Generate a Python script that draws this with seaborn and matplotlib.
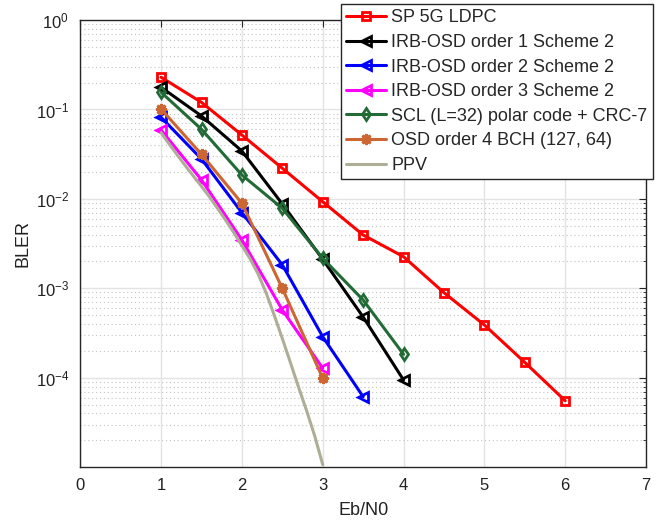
import numpy as np
import pandas as pd
import seaborn as sns
import matplotlib
matplotlib.use("Agg")
import matplotlib.pyplot as plt
from matplotlib.ticker import LogLocator, NullFormatter, FixedLocator, FixedFormatter

# Eb/N0 grids (dB)
ebn0_ldpc = [1.0, 1.5, 2.0, 2.5, 3.0, 3.5, 4.0, 4.5, 5.0, 5.5, 6.0]
ebn0_irb1 = [1.0, 1.5, 2.0, 2.5, 3.0, 3.5, 4.0]
ebn0_irb2 = [1.0, 1.5, 2.0, 2.5, 3.0, 3.5]
ebn0_irb3 = [1.0, 1.5, 2.0, 2.5, 3.0]
ebn0_scl = [1.0, 1.5, 2.0, 2.5, 3.0, 3.5, 4.0]
ebn0_bch = [1.0, 1.5, 2.0, 2.5, 3.0]
ebn0_ppv = [1.0, 1.1, 1.2, 1.3, 1.4, 1.5, 1.6, 1.7, 1.8, 1.9, 2.0,
            2.1, 2.2, 2.3, 2.4, 2.5, 2.6, 2.7, 2.8, 2.9, 3.0]

# Block error rates
bler_ldpc = [0.229, 0.120, 0.0518, 0.0220, 0.0093, 0.00395, 0.00226,
             8.95e-4, 3.9e-4, 1.49e-4, 5.55e-5]
bler_irb1 = [0.177, 0.0845, 0.0343, 0.00877, 0.00211, 4.79e-4, 9.46e-5]
bler_irb2 = [0.0817, 0.0279, 0.00701, 0.00183, 2.88e-4, 6.15e-5]
bler_irb3 = [0.0589, 0.0163, 0.00347, 5.73e-4, 1.28e-4]
bler_scl = [0.1555, 0.060, 0.0185, 0.00785, 0.00217, 7.41e-4, 1.83e-4]
bler_bch = [0.101, 0.0315, 0.00893, 0.0010, 9.9e-5]
bler_ppv = [5.5e-2, 4.1e-2, 3.1e-2, 2.35e-2, 1.8e-2, 1.38e-2, 1.05e-2, 7.8e-3,
            5.75e-3, 4.2e-3, 3.0e-3, 2.15e-3, 1.45e-3, 8.9e-4, 5.0e-4,
            2.75e-4, 1.48e-4, 7.9e-5, 4.3e-5, 2.25e-5, 1.07e-5]

series_labels = ["SP 5G LDPC", "IRB-OSD order 1 Scheme 2", "IRB-OSD order 2 Scheme 2",
                 "IRB-OSD order 3 Scheme 2", "SCL (L=32) polar code + CRC-7",
                 "OSD order 4 BCH (127, 64)", "PPV"]
x_ticks = [0, 1, 2, 3, 4, 5, 6, 7]
y_ticks = [1e-4, 1e-3, 1e-2, 1e-1, 1e0]
y_tick_labels = [r"$10^{-4}$", r"$10^{-3}$", r"$10^{-2}$", r"$10^{-1}$", r"$10^{0}$"]

sns.set_theme(style="white")
plt.rcParams["font.family"] = ["Liberation Sans", "DejaVu Sans"]
plt.rcParams["mathtext.fontset"] = "custom"
plt.rcParams["mathtext.rm"] = "Liberation Sans"
plt.rcParams["mathtext.it"] = "Liberation Sans"
plt.rcParams["mathtext.default"] = "regular"

fig = plt.figure(figsize=(6.67, 5.25), dpi=100)
ax = fig.add_axes([0.1204, 0.1099, 0.8481, 0.8520])

styles = [
    dict(x=ebn0_ldpc, y=bler_ldpc, color="#FF0000", marker="s", ms=5.5),
    dict(x=ebn0_irb1, y=bler_irb1, color="#000000", marker="<", ms=6.5),
    dict(x=ebn0_irb2, y=bler_irb2, color="#0000FF", marker="<", ms=6.5),
    dict(x=ebn0_irb3, y=bler_irb3, color="#FF00FF", marker="<", ms=6.5),
    dict(x=ebn0_scl, y=bler_scl, color="#236B36", marker="d", ms=6.5),
    dict(x=ebn0_bch, y=bler_bch, color="#CC6633", marker=(8, 2, 0), ms=8),
    dict(x=ebn0_ppv, y=bler_ppv, color="#AEAE96", marker=None, ms=0),
]

for st, lab in zip(styles, series_labels):
    df = pd.DataFrame({"ebn0": st["x"], "bler": st["y"]})
    kw = dict(color=st["color"], linewidth=2.2, label=lab)
    if st["marker"] is not None:
        kw.update(marker=st["marker"], markersize=st["ms"], markerfacecolor="none",
                  markeredgecolor=st["color"], markeredgewidth=2.0)
    sns.lineplot(data=df, x="ebn0", y="bler", ax=ax, estimator=None, sort=False,
                 errorbar=None, **kw)

ax.set_yscale("log")
ax.set_xlim(0, 7)
ax.set_ylim(1e-5, 1)
ax.xaxis.set_major_locator(FixedLocator(x_ticks))
ax.yaxis.set_major_locator(FixedLocator(y_ticks))
ax.yaxis.set_major_formatter(FixedFormatter(y_tick_labels))
ax.yaxis.set_minor_locator(LogLocator(base=10, subs=np.arange(2, 10), numticks=20))
ax.yaxis.set_minor_formatter(NullFormatter())

ax.grid(True, which="major", axis="both", color="#E3E3E3", linewidth=1.0, linestyle="-")
ax.grid(True, which="minor", axis="y", color="#C4C4C4", linewidth=0.8, linestyle=(0, (1, 2.5)))
ax.set_axisbelow(True)

for sp in ax.spines.values():
    sp.set_color("#262626")
    sp.set_linewidth(1.0)
ax.tick_params(which="both", direction="in", top=True, right=True, colors="#262626",
               labelcolor="#222222", labelsize=12)
ax.tick_params(which="major", length=5, width=0.8, pad=8)
ax.tick_params(which="minor", length=2.5, width=0.6)

ax.set_xlabel("Eb/N0", fontsize=13, color="#222222", labelpad=6)
ax.set_ylabel("BLER", fontsize=13, color="#222222", labelpad=3)

handles, labels = ax.get_legend_handles_labels()
leg = ax.legend(handles, labels, loc="upper right", bbox_to_anchor=(1.0124, 1.0358),
                fontsize=13, frameon=True, fancybox=False, framealpha=1,
                edgecolor="#262626", handlelength=2.2, handletextpad=0.3,
                labelspacing=0.42, borderpad=0.3, borderaxespad=0)
leg.get_frame().set_linewidth(1.0)

fig.savefig("out.png", dpi=100)
